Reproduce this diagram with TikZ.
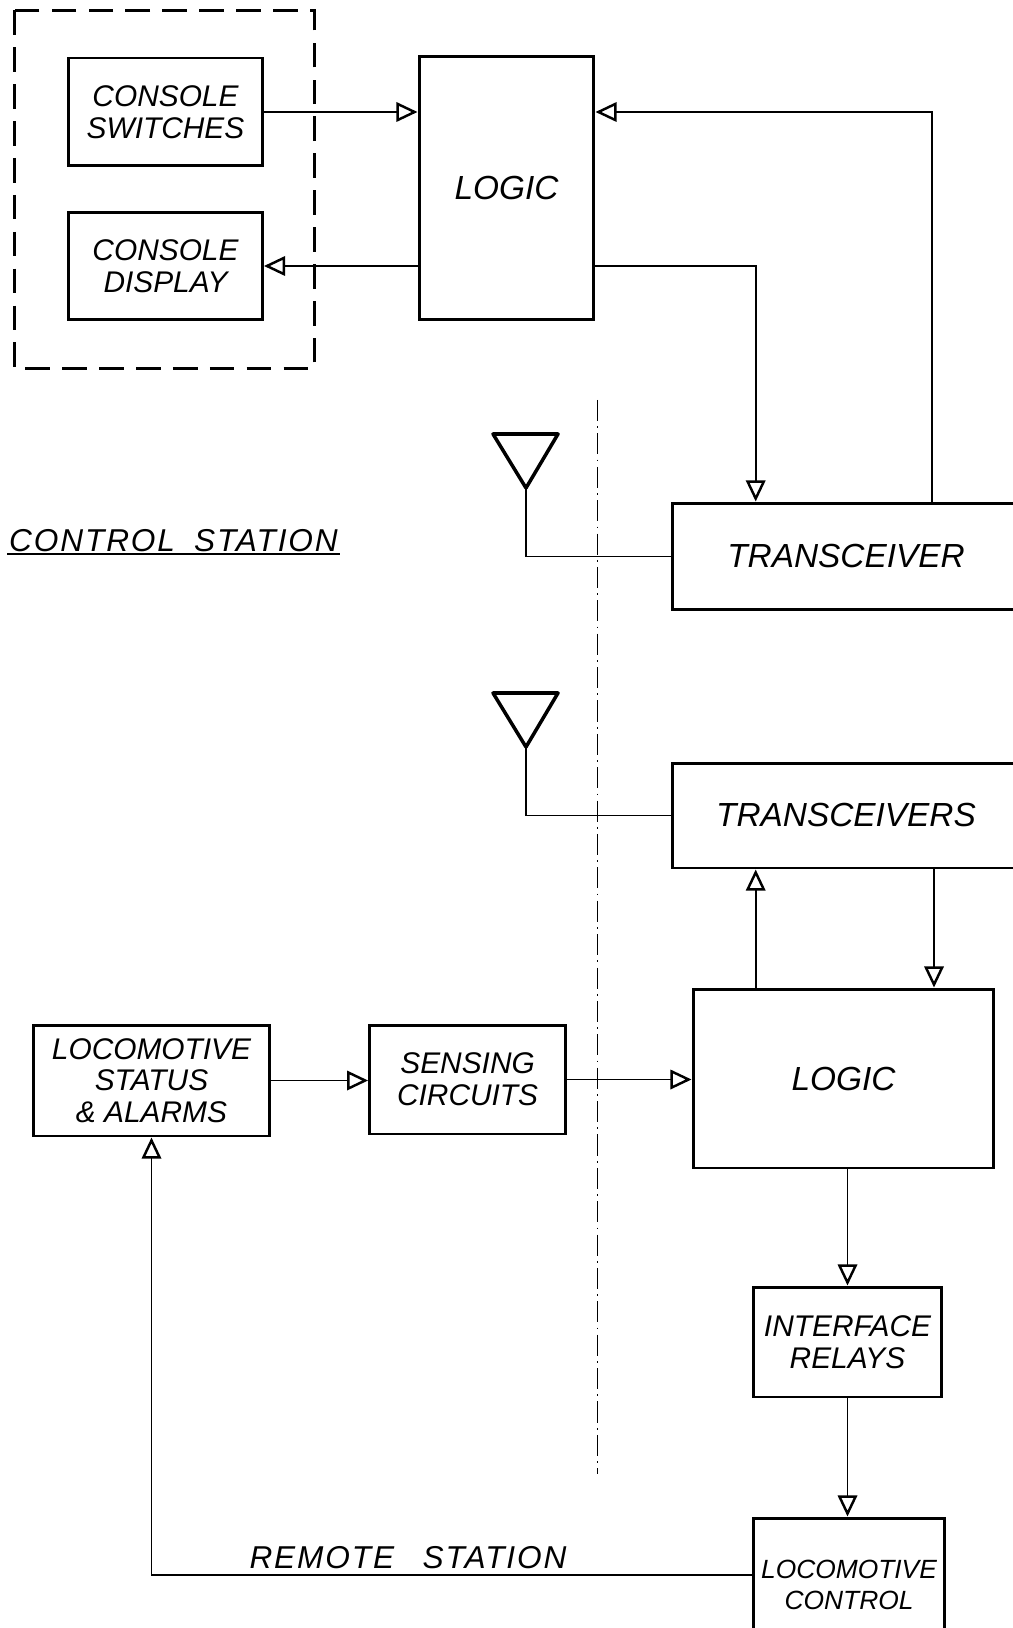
\documentclass[tikz,border=0pt]{standalone}
\usepackage{fontspec}
\setmainfont{Liberation Sans}
\usetikzlibrary{arrows.meta,positioning}
\newcommand{\lettr}[1]{\itshape\fontsize{#1}{18}\selectfont}
\tikzset{
  blk/.style={draw,line width=1.7pt,align=center,inner sep=2pt,font=\lettr{17}},
  bigblk/.style={blk,font=\lettr{19}},
  ar/.style={-{Triangle[open,length=12pt,width=11pt,line width=1.4pt]},line width=1.1pt},
  ln/.style={line width=1.1pt},
  ant/.style={line width=2pt,line join=round},
  lbl/.style={inner sep=1pt,font=\lettr{18}\addfontfeature{LetterSpace=6}},
}
\begin{document}
\begin{tikzpicture}[x=0.02cm,y=-0.02cm]
\clip (0,0) rectangle (1013,1628);
% control station
\draw[line width=1.7pt,dash pattern=on 14pt off 7pt] (14.5,10.4) rectangle (314.5,368.5);
\node[blk,minimum width=3.88cm,minimum height=2.16cm] (sw) at (165.5,112) {CONSOLE\\SWITCHES};
\node[blk,minimum width=3.88cm,minimum height=2.14cm] (disp) at (165.5,266) {CONSOLE\\DISPLAY};
\node[bigblk,minimum width=3.5cm,minimum height=5.26cm] (logA) at (506.5,188.4) {LOGIC};
\node[bigblk,minimum width=6.96cm,minimum height=2.14cm] (trA) at (846,556.5) {TRANSCEIVER};
\draw[ant] (493,434) -- (558,434) -- (526,488) -- cycle;
\coordinate (a1) at (526,488);
\node[lbl,anchor=west] (cs) at (7,541) {CONTROL\hspace{0.6em}STATION};
\draw[ln] (cs.south west) -- (cs.south east);
\coordinate (fbx) at (932,0);
\coordinate (dnx) at (755.7,0);
\draw[ar] (sw.east) -- (sw.east -| logA.west);
\draw[ar] (disp.east -| logA.west) -- (disp.east);
\draw[ar] (trA.north -| fbx) |- (logA.east |- sw.east);
\draw[ar] (logA.east |- disp.east) -| (trA.north -| dnx);
\draw[ln] (a1) |- (trA.west);
% divider
\draw[line width=0.5pt,dash pattern=on 12pt off 3pt on 1pt off 3pt] (597,400) -- (597,1474);
% remote station
\node[bigblk,minimum width=6.96cm,minimum height=2.1cm] (trB) at (846,815.5) {TRANSCEIVERS};
\draw[ant] (493,693) -- (558,693) -- (526,747) -- cycle;
\coordinate (a2) at (526,747);
\draw[ln] (a2) |- (trB.west);
\node[bigblk,minimum width=6.02cm,minimum height=3.58cm] (logB) at (843.5,1078.5) {LOGIC};
\node[blk,minimum width=4.74cm,minimum height=2.22cm] (stat) at (151.5,1080.5) {LOCOMOTIVE\\STATUS\\\& ALARMS};
\node[blk,minimum width=3.92cm,minimum height=2.18cm] (sens) at (467.6,1079.5) {SENSING\\CIRCUITS};
\node[blk,minimum width=3.76cm,minimum height=2.2cm] (intf) at (847.5,1342) {INTERFACE\\RELAYS};
\node[blk,font=\lettr{15},minimum width=3.82cm,minimum height=2.68cm] (loco) at (849,1585) {LOCOMOTIVE\\CONTROL};
\node[lbl] (rs) at (408,1558) {REMOTE\hspace{0.9em}STATION};
\coordinate (upx) at (755.7,0);
\coordinate (dwx) at (934,0);
\coordinate (rt) at (153.6,1574.6);
\draw[ar] (logB.north -| upx) -- (trB.south -| upx);
\draw[ar] (trB.south -| dwx) -- (logB.north -| dwx);
\draw[ar] (stat.east) -- (stat.east -| sens.west);
\draw[ar] (sens.east) -- (sens.east -| logB.west);
\draw[ar] (logB.south -| intf.north) -- (intf.north);
\draw[ar] (intf.south) -- (intf.south |- loco.north);
\draw[ar] (loco.west |- rt) -| (stat.south);
\end{tikzpicture}
\end{document}
